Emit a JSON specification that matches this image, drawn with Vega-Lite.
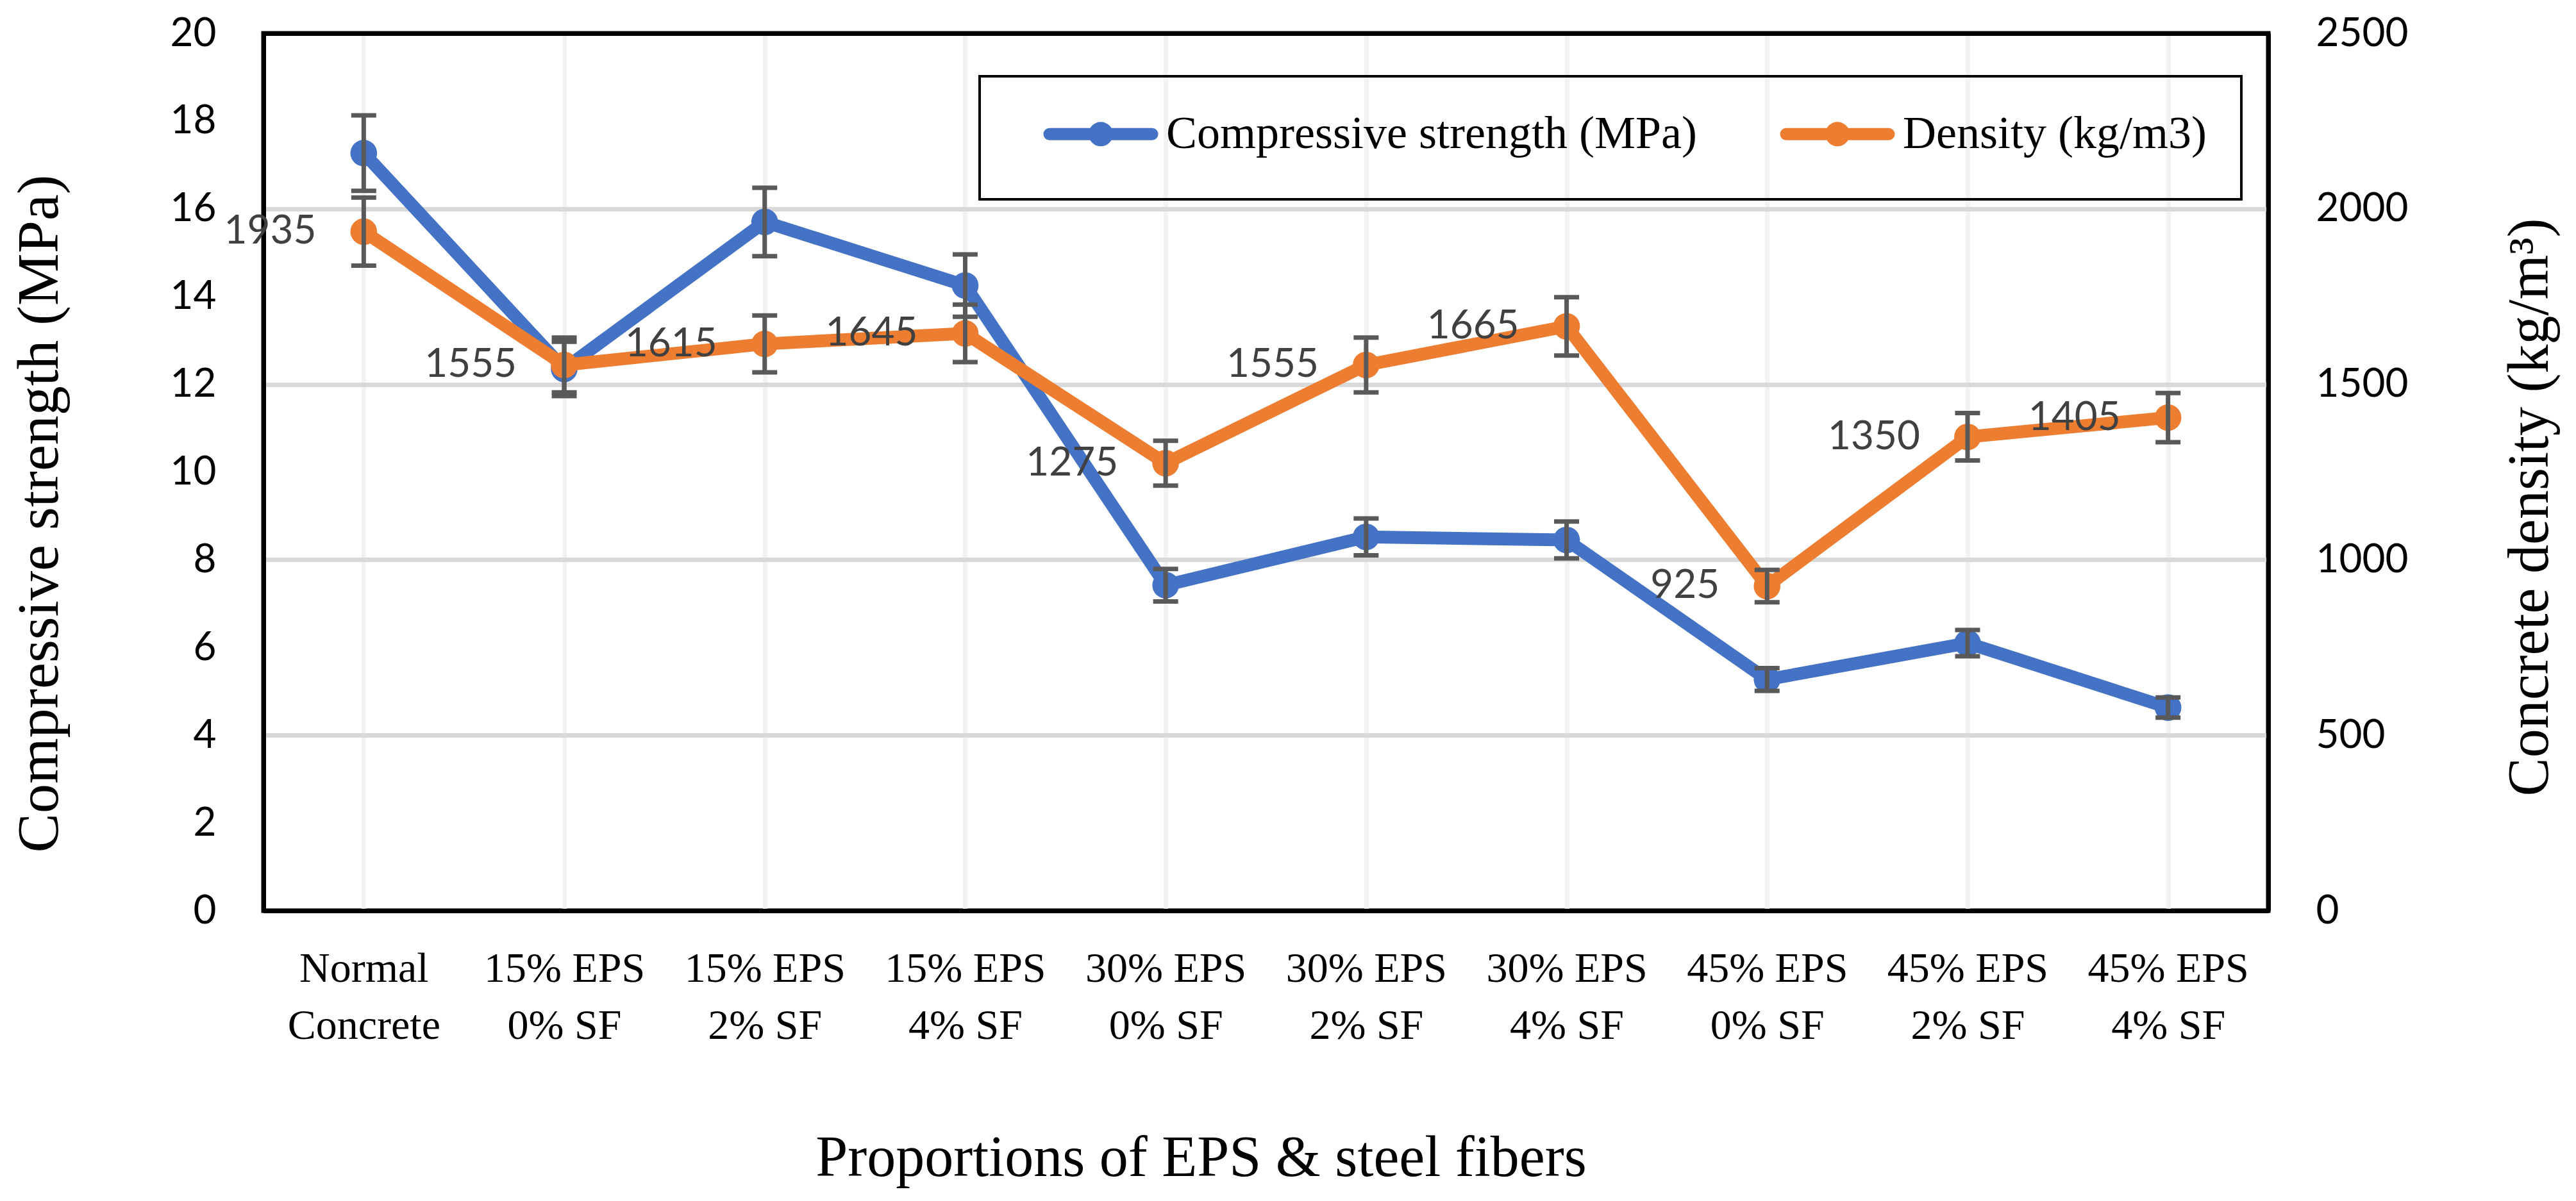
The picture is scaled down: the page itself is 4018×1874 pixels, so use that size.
{
  "$schema": "https://vega.github.io/schema/vega-lite/v6.json",
  "width": 3127,
  "height": 1369,
  "autosize": {"type": "none"},
  "padding": {"left": 411, "top": 52, "right": 480, "bottom": 453},
  "background": "white",
  "config": {"view": {"stroke": "black", "strokeWidth": 7}, "font": "Lato"},
  "data": {"values": [
    {"mix": "Normal|Concrete", "s": 17.27, "slo": 16.41, "shi": 18.13, "d": 1935, "dlo": 1838, "dhi": 2032},
    {"mix": "15% EPS|0% SF", "s": 12.35, "slo": 11.73, "shi": 12.97, "d": 1555, "dlo": 1477, "dhi": 1633},
    {"mix": "15% EPS|2% SF", "s": 15.7, "slo": 14.92, "shi": 16.48, "d": 1615, "dlo": 1534, "dhi": 1696},
    {"mix": "15% EPS|4% SF", "s": 14.25, "slo": 13.54, "shi": 14.96, "d": 1645, "dlo": 1563, "dhi": 1727},
    {"mix": "30% EPS|0% SF", "s": 7.42, "slo": 7.05, "shi": 7.79, "d": 1275, "dlo": 1211, "dhi": 1339},
    {"mix": "30% EPS|2% SF", "s": 8.52, "slo": 8.1, "shi": 8.94, "d": 1555, "dlo": 1477, "dhi": 1633},
    {"mix": "30% EPS|4% SF", "s": 8.45, "slo": 8.03, "shi": 8.87, "d": 1665, "dlo": 1582, "dhi": 1748},
    {"mix": "45% EPS|0% SF", "s": 5.27, "slo": 5.01, "shi": 5.53, "d": 925, "dlo": 879, "dhi": 971},
    {"mix": "45% EPS|2% SF", "s": 6.1, "slo": 5.8, "shi": 6.4, "d": 1350, "dlo": 1283, "dhi": 1418},
    {"mix": "45% EPS|4% SF", "s": 4.63, "slo": 4.4, "shi": 4.86, "d": 1405, "dlo": 1335, "dhi": 1475}
  ]},
  "encoding": {
    "x": {
      "field": "mix", "type": "nominal", "sort": null,
      "scale": {"type": "point", "padding": 0.5},
      "axis": {
        "title": "Proportions of EPS & steel fibers",
        "labelExpr": "split(datum.label, '|')",
        "labelFont": "Liberation Serif", "labelFontSize": 66, "labelColor": "black", "labelLimit": 1000,
        "labelLineHeight": 89, "labelPadding": 58, "labelAngle": 0,
        "ticks": false, "domain": true, "domainColor": "black", "domainWidth": 7,
        "grid": true, "gridColor": "#f2f2f2", "gridWidth": 7,
        "titleFont": "Liberation Serif", "titleFontSize": 90, "titleFontWeight": "normal", "titleColor": "black",
        "titleX": 1462, "titleY": 413, "titleBaseline": "alphabetic", "titleAlign": "center"
      }
    }
  },
  "layer": [
    {
      "layer": [
        {
          "mark": {"type": "line", "strokeWidth": 20, "strokeJoin": "round", "strokeCap": "round", "point": {"filled": true, "size": 1735, "opacity": 1}},
          "encoding": {
            "y": {
              "field": "s", "type": "quantitative", "scale": {"domain": [0, 20], "nice": false},
              "axis": {
                "orient": "left", "values": [0, 2, 4, 6, 8, 10, 12, 14, 16, 18, 20],
                "title": "Compressive strength (MPa)", "grid": false, "ticks": false,
                "domain": true, "domainColor": "black", "domainWidth": 7,
                "labelFont": "Lato", "labelFontSize": 62, "labelColor": "black", "labelPadding": 74,
                "titleFont": "Liberation Serif", "titleFontSize": 92, "titleFontWeight": "normal", "titleColor": "black",
                "titleAngle": -90, "titleX": -322, "titleY": 749, "titleBaseline": "alphabetic", "titleAlign": "center"
              }
            },
            "color": {
              "datum": "Compressive strength (MPa)", "type": "nominal",
              "scale": {"domain": ["Compressive strength (MPa)", "Density (kg/m3)"], "range": ["#4472C4", "#ED7D31"]},
              "legend": {
                "orient": "none", "legendX": 1117, "legendY": 67, "direction": "horizontal", "title": null,
                "strokeColor": "black", "padding": 54,
                "labelFont": "Liberation Serif", "labelFontSize": 72, "labelColor": "black", "labelLimit": 2000,
                "labelOffset": 66, "columnPadding": 84,
                "symbolType": "M-4,0L4,0M-0.475,0A0.475,0.475,0,1,1,0.475,0A0.475,0.475,0,1,1,-0.475,0Z",
                "symbolSize": 1600, "symbolStrokeWidth": 19, "symbolOffset": 99,
                "encode": {
                  "legend": {"update": {"strokeWidth": {"value": 4}}},
                  "symbols": {"update": {"fill": {"scale": "color", "field": "value"}, "strokeCap": {"value": "round"}, "opacity": {"value": 1}}}
                }
              }
            }
          }
        },
        {
          "mark": {"type": "rule", "color": "#595959", "strokeWidth": 7},
          "encoding": {
            "y": {"field": "slo", "type": "quantitative", "scale": {"domain": [0, 20], "nice": false},
              "axis": {
                "orient": "left", "values": [0, 2, 4, 6, 8, 10, 12, 14, 16, 18, 20],
                "title": "Compressive strength (MPa)", "grid": false, "ticks": false,
                "domain": true, "domainColor": "black", "domainWidth": 7,
                "labelFont": "Lato", "labelFontSize": 62, "labelColor": "black", "labelPadding": 74,
                "titleFont": "Liberation Serif", "titleFontSize": 92, "titleFontWeight": "normal", "titleColor": "black",
                "titleAngle": -90, "titleX": -322, "titleY": 749, "titleBaseline": "alphabetic", "titleAlign": "center"
              }},
            "y2": {"field": "shi"}
          }
        },
        {
          "mark": {"type": "tick", "color": "#595959", "size": 39, "thickness": 7, "opacity": 1},
          "encoding": {"y": {"field": "slo", "type": "quantitative", "scale": {"domain": [0, 20], "nice": false},
              "axis": {
                "orient": "left", "values": [0, 2, 4, 6, 8, 10, 12, 14, 16, 18, 20],
                "title": "Compressive strength (MPa)", "grid": false, "ticks": false,
                "domain": true, "domainColor": "black", "domainWidth": 7,
                "labelFont": "Lato", "labelFontSize": 62, "labelColor": "black", "labelPadding": 74,
                "titleFont": "Liberation Serif", "titleFontSize": 92, "titleFontWeight": "normal", "titleColor": "black",
                "titleAngle": -90, "titleX": -322, "titleY": 749, "titleBaseline": "alphabetic", "titleAlign": "center"
              }}}
        },
        {
          "mark": {"type": "tick", "color": "#595959", "size": 39, "thickness": 7, "opacity": 1},
          "encoding": {"y": {"field": "shi", "type": "quantitative", "scale": {"domain": [0, 20], "nice": false},
              "axis": {
                "orient": "left", "values": [0, 2, 4, 6, 8, 10, 12, 14, 16, 18, 20],
                "title": "Compressive strength (MPa)", "grid": false, "ticks": false,
                "domain": true, "domainColor": "black", "domainWidth": 7,
                "labelFont": "Lato", "labelFontSize": 62, "labelColor": "black", "labelPadding": 74,
                "titleFont": "Liberation Serif", "titleFontSize": 92, "titleFontWeight": "normal", "titleColor": "black",
                "titleAngle": -90, "titleX": -322, "titleY": 749, "titleBaseline": "alphabetic", "titleAlign": "center"
              }}}
        }
      ]
    },
    {
      "layer": [
        {
          "mark": {"type": "line", "strokeWidth": 20, "strokeJoin": "round", "strokeCap": "round", "point": {"filled": true, "size": 1735, "opacity": 1}},
          "encoding": {
            "y": {
              "field": "d", "type": "quantitative", "scale": {"domain": [0, 2500], "nice": false},
              "axis": {
                "orient": "right", "values": [0, 500, 1000, 1500, 2000, 2500], "format": "d",
                "title": "Concrete density (kg/m³)", "ticks": false, "grid": true,
                "gridColor": {"condition": {"test": "datum.value >= 2500 || datum.value <= 0", "value": "black"}, "value": "#d9d9d9"},
                "gridWidth": 7, "domain": true, "domainColor": "black", "domainWidth": 7,
                "labelFont": "Lato", "labelFontSize": 62, "labelColor": "black", "labelPadding": 74, "labelAlign": "left",
                "titleFont": "Liberation Serif", "titleFontSize": 90, "titleFontWeight": "normal", "titleColor": "black",
                "titleAngle": -90, "titleX": 435, "titleY": 739, "titleBaseline": "alphabetic", "titleAlign": "center"
              }
            },
            "color": {"datum": "Density (kg/m3)", "type": "nominal"}
          }
        },
        {
          "mark": {"type": "rule", "color": "#595959", "strokeWidth": 7},
          "encoding": {
            "y": {"field": "dlo", "type": "quantitative", "scale": {"domain": [0, 2500], "nice": false},
              "axis": {
                "orient": "right", "values": [0, 500, 1000, 1500, 2000, 2500], "format": "d",
                "title": "Concrete density (kg/m³)", "ticks": false, "grid": true,
                "gridColor": {"condition": {"test": "datum.value >= 2500 || datum.value <= 0", "value": "black"}, "value": "#d9d9d9"},
                "gridWidth": 7, "domain": true, "domainColor": "black", "domainWidth": 7,
                "labelFont": "Lato", "labelFontSize": 62, "labelColor": "black", "labelPadding": 74, "labelAlign": "left",
                "titleFont": "Liberation Serif", "titleFontSize": 90, "titleFontWeight": "normal", "titleColor": "black",
                "titleAngle": -90, "titleX": 435, "titleY": 739, "titleBaseline": "alphabetic", "titleAlign": "center"
              }},
            "y2": {"field": "dhi"}
          }
        },
        {
          "mark": {"type": "tick", "color": "#595959", "size": 39, "thickness": 7, "opacity": 1},
          "encoding": {"y": {"field": "dlo", "type": "quantitative", "scale": {"domain": [0, 2500], "nice": false},
              "axis": {
                "orient": "right", "values": [0, 500, 1000, 1500, 2000, 2500], "format": "d",
                "title": "Concrete density (kg/m³)", "ticks": false, "grid": true,
                "gridColor": {"condition": {"test": "datum.value >= 2500 || datum.value <= 0", "value": "black"}, "value": "#d9d9d9"},
                "gridWidth": 7, "domain": true, "domainColor": "black", "domainWidth": 7,
                "labelFont": "Lato", "labelFontSize": 62, "labelColor": "black", "labelPadding": 74, "labelAlign": "left",
                "titleFont": "Liberation Serif", "titleFontSize": 90, "titleFontWeight": "normal", "titleColor": "black",
                "titleAngle": -90, "titleX": 435, "titleY": 739, "titleBaseline": "alphabetic", "titleAlign": "center"
              }}}
        },
        {
          "mark": {"type": "tick", "color": "#595959", "size": 39, "thickness": 7, "opacity": 1},
          "encoding": {"y": {"field": "dhi", "type": "quantitative", "scale": {"domain": [0, 2500], "nice": false},
              "axis": {
                "orient": "right", "values": [0, 500, 1000, 1500, 2000, 2500], "format": "d",
                "title": "Concrete density (kg/m³)", "ticks": false, "grid": true,
                "gridColor": {"condition": {"test": "datum.value >= 2500 || datum.value <= 0", "value": "black"}, "value": "#d9d9d9"},
                "gridWidth": 7, "domain": true, "domainColor": "black", "domainWidth": 7,
                "labelFont": "Lato", "labelFontSize": 62, "labelColor": "black", "labelPadding": 74, "labelAlign": "left",
                "titleFont": "Liberation Serif", "titleFontSize": 90, "titleFontWeight": "normal", "titleColor": "black",
                "titleAngle": -90, "titleX": 435, "titleY": 739, "titleBaseline": "alphabetic", "titleAlign": "center"
              }}}
        },
        {
          "mark": {"type": "text", "align": "right", "baseline": "middle", "dx": -74, "font": "Lato", "fontSize": 62, "color": "#404040"},
          "encoding": {
            "y": {"field": "d", "type": "quantitative", "scale": {"domain": [0, 2500], "nice": false},
              "axis": {
                "orient": "right", "values": [0, 500, 1000, 1500, 2000, 2500], "format": "d",
                "title": "Concrete density (kg/m³)", "ticks": false, "grid": true,
                "gridColor": {"condition": {"test": "datum.value >= 2500 || datum.value <= 0", "value": "black"}, "value": "#d9d9d9"},
                "gridWidth": 7, "domain": true, "domainColor": "black", "domainWidth": 7,
                "labelFont": "Lato", "labelFontSize": 62, "labelColor": "black", "labelPadding": 74, "labelAlign": "left",
                "titleFont": "Liberation Serif", "titleFontSize": 90, "titleFontWeight": "normal", "titleColor": "black",
                "titleAngle": -90, "titleX": 435, "titleY": 739, "titleBaseline": "alphabetic", "titleAlign": "center"
              }},
            "text": {"field": "d", "type": "quantitative", "format": "d"}
          }
        }
      ]
    }
  ],
  "resolve": {"scale": {"y": "independent"}}
}
